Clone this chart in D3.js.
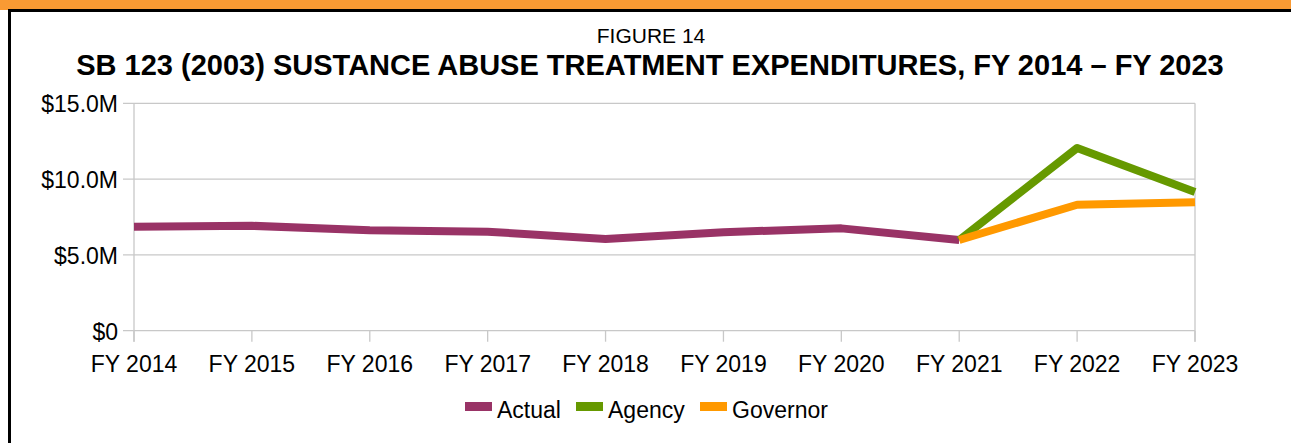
<!DOCTYPE html>
<html>
<head>
<meta charset="utf-8">
<script src="https://cdn.jsdelivr.net/npm/d3@7"></script>
<style>
  html, body { margin: 0; padding: 0; background: #fff; }
  svg { display: block; font-family: "Liberation Sans", Arial, sans-serif; }
</style>
</head>
<body>
<div id="chart"></div>
<script>
(function () {
    'use strict';

    const years = ["FY 2014", "FY 2015", "FY 2016", "FY 2017", "FY 2018",
                   "FY 2019", "FY 2020", "FY 2021", "FY 2022", "FY 2023"];

    // values in $M
    const actual = [6.86, 6.92, 6.62, 6.53, 6.05, 6.50, 6.75, 5.98, null, null];
    const agency = [null, null, null, null, null, null, null, 5.98, 12.05, 9.15];
    const governor = [null, null, null, null, null, null, null, 5.98, 8.31, 8.47];

    const yTicks = [0, 5, 10, 15];
    const yTickLabels = ["$0", "$5.0M", "$10.0M", "$15.0M"];

    const series = [
        { name: "Actual", values: actual, color: "#993366" },
        { name: "Agency", values: agency, color: "#669900" },
        { name: "Governor", values: governor, color: "#ff9900" }
    ];

    const width = 1291, height = 443;
    const plot = { left: 134, right: 1195, top: 103.3, bottom: 330.7 };

    const svg = d3.select("#chart").append("svg")
        .attr("width", width)
        .attr("height", height);

    // frame: orange band + black border
    svg.append("rect").attr("x", 0).attr("y", 0).attr("width", width).attr("height", 10)
        .attr("fill", "#f99a33");
    svg.append("rect").attr("x", 8).attr("y", 9).attr("width", width - 8).attr("height", 3)
        .attr("fill", "#000");
    svg.append("rect").attr("x", 8).attr("y", 9).attr("width", 3).attr("height", height - 9)
        .attr("fill", "#000");

    svg.append("text")
        .attr("x", 651).attr("y", 43)
        .attr("text-anchor", "middle")
        .attr("font-size", 21)
        .attr("fill", "#000")
        .text("FIGURE 14");

    svg.append("text")
        .attr("x", 650).attr("y", 75)
        .attr("text-anchor", "middle")
        .attr("font-size", 29)
        .attr("font-weight", "bold")
        .attr("fill", "#000")
        .text("SB 123 (2003) SUSTANCE ABUSE TREATMENT EXPENDITURES, FY 2014 \u2013 FY 2023");

    const x = d3.scalePoint().domain(years).range([plot.left, plot.right]);
    const y = d3.scaleLinear().domain([0, 15]).range([plot.bottom, plot.top]);

    const gridColor = "#c8c8c8";

    // gridlines
    svg.append("g")
        .selectAll("line")
        .data(yTicks)
        .enter()
        .append("line")
        .attr("x1", plot.left - 11).attr("x2", plot.right)
        .attr("y1", d => y(d)).attr("y2", d => y(d))
        .attr("stroke", gridColor)
        .attr("stroke-width", 1.3);

    // left and right axis lines
    svg.append("line")
        .attr("x1", plot.left).attr("x2", plot.left)
        .attr("y1", plot.top).attr("y2", plot.bottom + 11)
        .attr("stroke", gridColor).attr("stroke-width", 1.3);
    svg.append("line")
        .attr("x1", plot.right).attr("x2", plot.right)
        .attr("y1", plot.top).attr("y2", plot.bottom + 11)
        .attr("stroke", gridColor).attr("stroke-width", 1.3);

    // x ticks
    svg.append("g")
        .selectAll("line")
        .data(years)
        .enter()
        .append("line")
        .attr("x1", d => x(d)).attr("x2", d => x(d))
        .attr("y1", plot.bottom).attr("y2", plot.bottom + 11)
        .attr("stroke", gridColor).attr("stroke-width", 1.3);

    svg.append("g")
        .selectAll("text")
        .data(years)
        .enter()
        .append("text")
        .attr("x", d => x(d))
        .attr("y", 372)
        .attr("text-anchor", "middle")
        .attr("font-size", 23)
        .attr("fill", "#000")
        .text(d => d);

    svg.append("g")
        .selectAll("text")
        .data(yTicks)
        .enter()
        .append("text")
        .attr("x", 118)
        .attr("y", d => y(d) + 9)
        .attr("text-anchor", "end")
        .attr("font-size", 23)
        .attr("fill", "#000")
        .text((d, i) => yTickLabels[i]);

    const line = d3.line()
        .defined(d => d != null)
        .x((d, i) => x(years[i]))
        .y(d => y(d));

    svg.append("g")
        .selectAll("path")
        .data(series)
        .enter()
        .append("path")
        .attr("d", d => line(d.values))
        .attr("fill", "none")
        .attr("stroke", d => d.color)
        .attr("stroke-width", 8)
        .attr("stroke-linejoin", "round");

    // legend
    const legendX = [465, 576, 700];
    const lg = svg.append("g")
        .selectAll("g")
        .data(series)
        .enter()
        .append("g")
        .attr("transform", (d, i) => `translate(${legendX[i]},0)`);

    lg.append("rect")
        .attr("x", 0).attr("y", 402)
        .attr("width", 27).attr("height", 9)
        .attr("fill", d => d.color);

    lg.append("text")
        .attr("x", 32).attr("y", 418)
        .attr("font-size", 23)
        .attr("fill", "#000")
        .text(d => d.name);
})();
</script>
</body>
</html>
